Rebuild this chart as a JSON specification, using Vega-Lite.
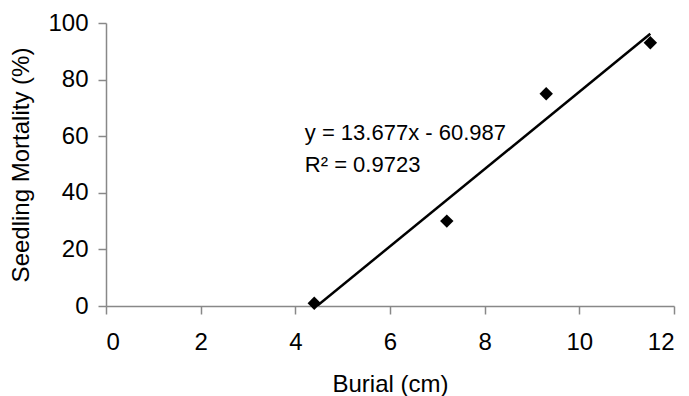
{
  "$schema": "https://vega.github.io/schema/vega-lite/v6.json",
  "width": 568,
  "height": 283,
  "autosize": {"type": "none"},
  "padding": {"left": 106, "top": 23, "right": 15, "bottom": 90},
  "background": "white",
  "config": {
    "view": {"stroke": null},
    "font": "Liberation Sans",
    "axis": {
      "grid": false,
      "domainColor": "#888888",
      "domainWidth": 1.5,
      "tickColor": "#888888",
      "tickWidth": 1.5,
      "tickSize": 8,
      "labelColor": "#000000",
      "titleColor": "#000000",
      "labelFont": "Liberation Sans",
      "titleFont": "Liberation Sans",
      "labelFontSize": 24,
      "titleFontSize": 24,
      "titleFontWeight": "normal"
    }
  },
  "datasets": {
    "points": [
      {"burial": 4.4, "mortality": 1},
      {"burial": 7.2, "mortality": 30},
      {"burial": 9.3, "mortality": 75},
      {"burial": 11.5, "mortality": 93}
    ],
    "labels": [
      {"burial": 4.2, "mortality": 58.7, "label": "y = 13.677x - 60.987"},
      {"burial": 4.2, "mortality": 47.3, "label": "R² = 0.9723"}
    ]
  },
  "layer": [
    {
      "data": {"name": "points"},
      "transform": [{"regression": "mortality", "on": "burial"}],
      "mark": {"type": "line", "color": "#000000", "strokeWidth": 2.5, "clip": true},
      "encoding": {
        "x": {"field": "burial", "type": "quantitative",
              "scale": {"domain": [0, 12], "nice": false, "zero": false},
              "axis": {"title": "Burial (cm)", "values": [0, 2, 4, 6, 8, 10, 12], "labelPadding": 16, "titlePadding": 18}},
        "y": {"field": "mortality", "type": "quantitative",
              "scale": {"domain": [0, 100], "nice": false},
              "axis": {"title": "Seedling Mortality (%)", "values": [0, 20, 40, 60, 80, 100], "labelPadding": 10, "titlePadding": 14}}
      }
    },
    {
      "data": {"name": "points"},
      "mark": {"type": "point", "shape": "diamond", "filled": true, "color": "#000000", "size": 180, "opacity": 1},
      "encoding": {
        "x": {"field": "burial", "type": "quantitative"},
        "y": {"field": "mortality", "type": "quantitative"}
      }
    },
    {
      "data": {"name": "labels"},
      "mark": {"type": "text", "align": "left", "baseline": "alphabetic", "fontSize": 22, "font": "Liberation Sans", "color": "#000000"},
      "encoding": {
        "x": {"field": "burial", "type": "quantitative"},
        "y": {"field": "mortality", "type": "quantitative"},
        "text": {"field": "label"}
      }
    }
  ]
}
